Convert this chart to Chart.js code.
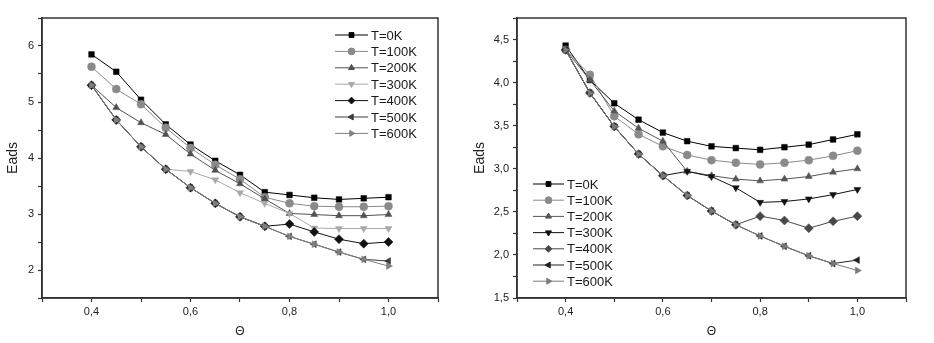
<!DOCTYPE html>
<html>
<head>
<meta charset="utf-8">
<script src="https://cdn.jsdelivr.net/npm/chart.js@4.4.0/dist/chart.umd.min.js"></script>
<style>
  body { margin: 0; background: #fff; }
  #wrap { position: relative; width: 934px; height: 343px; }
  .box { position: absolute; top: 0; width: 467px; height: 343px; }
</style>
</head>
<body>
<div id="wrap">
  <div class="box" style="left:0"><canvas id="chartLeft" width="467" height="343"></canvas></div>
  <div class="box" style="left:467px"><canvas id="chartRight" width="467" height="343"></canvas></div>
</div>
<script>
// coverage values (x axis)
var theta = [0.4, 0.45, 0.5, 0.55, 0.6, 0.65, 0.7, 0.75, 0.8, 0.85, 0.9, 0.95, 1.0];
var tempLabels = ['T=0K', 'T=100K', 'T=200K', 'T=300K', 'T=400K', 'T=500K', 'T=600K'];

// left plot, Eads
var left0K   = [5.85, 5.54, 5.04, 4.60, 4.24, 3.95, 3.70, 3.39, 3.34, 3.29, 3.26, 3.28, 3.30];
var left100K = [5.63, 5.23, 4.96, 4.54, 4.18, 3.88, 3.62, 3.30, 3.19, 3.14, 3.13, 3.13, 3.14];
var left200K = [5.30, 4.90, 4.63, 4.42, 4.07, 3.78, 3.54, 3.27, 3.01, 2.99, 2.97, 2.97, 2.99];
var left300K = [5.30, 4.68, 4.20, 3.80, 3.76, 3.61, 3.38, 3.19, 3.01, 2.75, 2.74, 2.74, 2.74];
var left400K = [5.30, 4.68, 4.20, 3.80, 3.47, 3.19, 2.95, 2.78, 2.82, 2.68, 2.55, 2.47, 2.50];
var left500K = [5.30, 4.68, 4.20, 3.80, 3.47, 3.19, 2.95, 2.78, 2.60, 2.46, 2.32, 2.19, 2.16];
var left600K = [5.30, 4.68, 4.20, 3.80, 3.47, 3.19, 2.95, 2.78, 2.60, 2.46, 2.32, 2.19, 2.07];

// right plot, Eads
var right0K   = [4.43, 4.03, 3.76, 3.57, 3.42, 3.32, 3.26, 3.24, 3.22, 3.25, 3.28, 3.34, 3.40];
var right100K = [4.38, 4.09, 3.61, 3.40, 3.26, 3.16, 3.10, 3.07, 3.05, 3.07, 3.10, 3.15, 3.21];
var right200K = [4.38, 4.03, 3.67, 3.47, 3.32, 2.97, 2.92, 2.88, 2.86, 2.88, 2.91, 2.96, 3.00];
var right300K = [4.38, 3.88, 3.49, 3.17, 2.92, 2.97, 2.91, 2.78, 2.61, 2.62, 2.65, 2.70, 2.76];
var right400K = [4.38, 3.88, 3.49, 3.17, 2.92, 2.69, 2.51, 2.35, 2.45, 2.40, 2.31, 2.39, 2.45];
var right500K = [4.38, 3.88, 3.49, 3.17, 2.92, 2.69, 2.51, 2.35, 2.22, 2.10, 1.99, 1.90, 1.94];
var right600K = [4.38, 3.88, 3.49, 3.17, 2.92, 2.69, 2.51, 2.35, 2.22, 2.10, 1.99, 1.90, 1.82];

var FONT = "'Liberation Sans', Arial, sans-serif";
var styles   = ['rect', 'circle', 'triangle', 'triangle', 'rectRot', 'triangle', 'triangle'];
var rotation = [0, 0, 0, 180, 0, 270, 90];
var leftColors  = ['#000000', '#8a8a8a', '#505050', '#a8a8a8', '#111111', '#3a3a3a', '#808080'];
var rightColors = ['#000000', '#8a8a8a', '#555555', '#111111', '#484848', '#222222', '#7a7a7a'];

function makeSets(series, colors) {
  return series.map(function (vals, i) {
    return {
      label: tempLabels[i],
      data: vals.map(function (v, j) { return { x: theta[j], y: v }; }),
      borderColor: colors[i],
      backgroundColor: colors[i],
      borderWidth: 1,
      pointStyle: styles[i],
      rotation: rotation[i],
      pointRadius: i == 4 ? 4.5 : 4,
      pointBorderWidth: 0.5,
      tension: 0,
      fill: false,
      order: series.length - i   // later series on top, like the original
    };
  });
}

function comma(v, digits) {
  return v.toFixed(digits).replace('.', ',');
}

// box around plot + legend with line and marker
var framePlugin = {
  id: 'frame',
  afterDraw: function (chart, args, opts) {
    var ctx = chart.ctx, a = chart.chartArea;
    ctx.save();
    ctx.strokeStyle = '#333';
    ctx.lineWidth = 1.5;
    ctx.strokeRect(a.left, a.top, a.right - a.left, a.bottom - a.top);

    var lg = opts.legend;
    ctx.font = '13px ' + FONT;
    ctx.textBaseline = 'middle';
    chart.data.datasets.forEach(function (ds, i) {
      var y = lg.y + i * lg.row;
      ctx.strokeStyle = ds.borderColor;
      ctx.lineWidth = 1;
      ctx.beginPath();
      ctx.moveTo(lg.x, y);
      ctx.lineTo(lg.x + lg.len, y);
      ctx.stroke();
      ctx.fillStyle = ds.backgroundColor;
      ctx.strokeStyle = ds.borderColor;
      if (Chart.helpers && Chart.helpers.drawPoint) {
        Chart.helpers.drawPoint(ctx, { pointStyle: ds.pointStyle, rotation: ds.rotation, radius: 3.4, borderWidth: 0.5 }, lg.x + lg.len / 2, y);
      }
      ctx.fillStyle = '#1a1a1a';
      ctx.fillText(ds.label, lg.x + lg.len + 3, y + 1);
    });
    ctx.restore();
  }
};

function makeChart(id, series, colors, yMin, yMax, yStep, yLabel, yWidth, padRight, legend) {
  return new Chart(document.getElementById(id), {
    type: 'line',
    data: { datasets: makeSets(series, colors) },
    plugins: [framePlugin],
    options: {
      responsive: false,
      animation: false,
      layout: { padding: { left: 0, right: padRight, top: 18, bottom: 0 } },
      plugins: {
        legend: { display: false },
        tooltip: { enabled: false },
        frame: { legend: legend }
      },
      scales: {
        x: {
          type: 'linear',
          min: 0.3,
          max: 1.1,
          afterFit: function (s) { s.height = 45; },
          ticks: {
            stepSize: 0.1,
            autoSkip: false,
            maxRotation: 0,
            padding: 3,
            color: '#222',
            font: { family: FONT, size: 11 },
            callback: function (v) {
              var k = Math.round(v * 10);
              return (k % 2 == 0) ? comma(k / 10, 1) : '';
            }
          },
          grid: { drawOnChartArea: false, tickLength: 4, color: '#333', tickWidth: 1.2 },
          border: { color: '#333', width: 1.5 },
          title: { display: true, text: 'Θ', color: '#222', font: { family: FONT, size: 12 }, padding: { top: 0, bottom: 4 } }
        },
        y: {
          type: 'linear',
          min: yMin,
          max: yMax,
          afterFit: function (s) { s.width = yWidth; },
          ticks: {
            stepSize: yStep,
            autoSkip: false,
            padding: 4,
            color: '#222',
            font: { family: FONT, size: 11 },
            callback: yLabel
          },
          grid: { drawOnChartArea: false, tickLength: 4, color: '#333', tickWidth: 1.2 },
          border: { color: '#333', width: 1.5 },
          title: { display: true, text: 'Eads', color: '#222', font: { family: FONT, size: 14 }, padding: { top: 5, bottom: 0 } }
        }
      }
    }
  });
}

makeChart('chartLeft',
  [left0K, left100K, left200K, left300K, left400K, left500K, left600K],
  leftColors, 1.5, 6.5, 0.5,
  function (v) {
    var k = Math.round(v * 2);
    return (k % 2 == 0 && v > 1.9) ? String(k / 2) : '';
  },
  42, 29, { x: 335, y: 35, row: 16.4, len: 33 });

makeChart('chartRight',
  [right0K, right100K, right200K, right300K, right400K, right500K, right600K],
  rightColors, 1.5, 4.75, 0.25,
  function (v) {
    var k = Math.round(v * 4);
    return (k % 2 == 0) ? comma(k / 4, 1) : '';
  },
  50, 28, { x: 66, y: 184, row: 16.2, len: 31 });
</script>
</body>
</html>
